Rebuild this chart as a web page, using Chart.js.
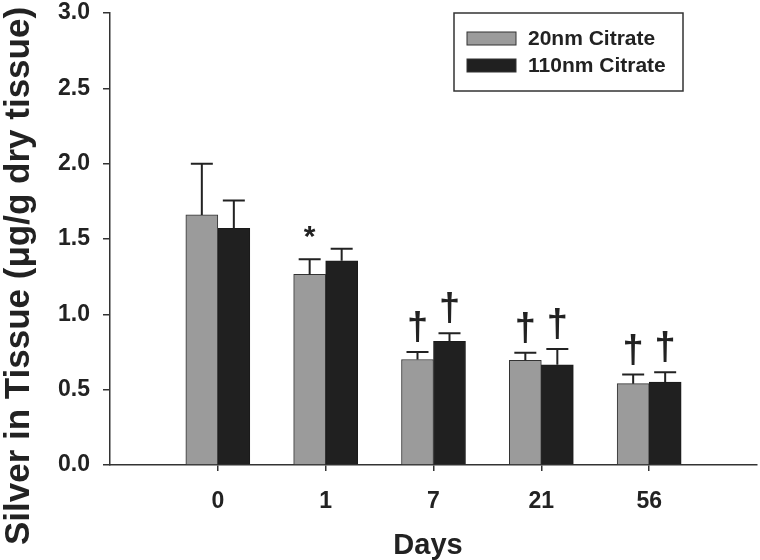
<!DOCTYPE html>
<html>
<head>
<meta charset="utf-8">
<script src="https://cdn.jsdelivr.net/npm/chart.js@4.4.1/dist/chart.umd.min.js"></script>
<style>
  html, body { margin: 0; padding: 0; background: #fff; }
  #wrap { width: 760px; height: 560px; }
</style>
</head>
<body>
<div id="wrap"><canvas id="chart"></canvas></div>
<script>
// days on the x axis (blank slots pad both ends, like the original plot)
const days = ['', '0', '1', '7', '21', '56', ''];
// mean silver in tissue, ug/g dry tissue
const silver20 = [null, 1.66, 1.265, 0.70, 0.695, 0.54, null];
const silver110 = [null, 1.57, 1.355, 0.82, 0.665, 0.55, null];
// upper error bars
const err20 = [null, 0.34, 0.10, 0.05, 0.05, 0.06, null];
const err110 = [null, 0.185, 0.08, 0.055, 0.105, 0.065, null];
// significance marks above the bars
const mark20 = ['', '', '*', '†', '†', '†', ''];
const mark110 = ['', '', '', '†', '†', '†', ''];
// y tick labels
const yTicks = [0, 0.5, 1.0, 1.5, 2.0, 2.5, 3.0];

const FONT = '"Liberation Sans", Arial, Helvetica, sans-serif';
const INK = '#222';
const AXIS = '#333';

// error bars, marks, legend box and axis titles
const extras = {
  id: 'extras',
  afterDatasetsDraw(chart) {
    const ctx = chart.ctx;
    const y = chart.scales.y;
    const errs = [err20, err110];
    const marks = [mark20, mark110];
    ctx.save();
    chart.data.datasets.forEach((ds, di) => {
      const meta = chart.getDatasetMeta(di);
      meta.data.forEach((bar, i) => {
        if (ds.data[i] == null) return;
        const top = y.getPixelForValue(ds.data[i] + errs[di][i]);
        ctx.strokeStyle = INK;
        ctx.lineWidth = 2;
        ctx.beginPath();
        ctx.moveTo(bar.x, bar.y);
        ctx.lineTo(bar.x, top);
        ctx.moveTo(bar.x - 11, top);
        ctx.lineTo(bar.x + 11, top);
        ctx.stroke();

        const m = marks[di][i];
        if (m) {
          const star = m === '*';
          ctx.font = 'bold ' + (star ? 30 : 38) + 'px ' + FONT;
          ctx.fillStyle = INK;
          ctx.textAlign = 'center';
          ctx.textBaseline = 'alphabetic';
          const mt = ctx.measureText(m);
          const gap = star ? 21 : 10;
          ctx.fillText(m, bar.x, top - gap - mt.actualBoundingBoxDescent);
        }
      });
    });
    ctx.restore();
  },
  afterDraw(chart) {
    const ctx = chart.ctx;
    const area = chart.chartArea;
    ctx.save();

    // legend
    const bx = 454, by = area.top, bw = 229, bh = 78;
    ctx.strokeStyle = AXIS;
    ctx.lineWidth = 1.5;
    ctx.strokeRect(bx, by, bw, bh);
    ctx.font = 'bold 21px ' + FONT;
    ctx.textAlign = 'left';
    ctx.textBaseline = 'middle';
    chart.data.datasets.forEach((ds, di) => {
      const cy = by + 25.5 + di * 27;
      ctx.fillStyle = ds.backgroundColor;
      ctx.fillRect(bx + 13, cy - 6.5, 49, 13);
      ctx.lineWidth = 1;
      ctx.strokeStyle = AXIS;
      ctx.strokeRect(bx + 13, cy - 6.5, 49, 13);
      ctx.fillStyle = INK;
      ctx.fillText(ds.label, bx + 74, cy + 1);
    });

    // axis titles
    ctx.fillStyle = INK;
    ctx.font = 'bold 29px ' + FONT;
    ctx.textAlign = 'center';
    ctx.textBaseline = 'alphabetic';
    ctx.fillText('Days', 428, 554);

    ctx.translate(29, 276);
    ctx.rotate(-Math.PI / 2);
    ctx.font = 'bold 35px ' + FONT;
    ctx.fillText('Silver in Tissue (\u03BCg/g dry tissue)', 0, 0);
    ctx.restore();
  }
};

const tickFont = { family: FONT, size: 23, weight: 'bold' };

new Chart(document.getElementById('chart'), {
  type: 'bar',
  data: {
    labels: days,
    datasets: [
      {
        label: '20nm Citrate',
        data: silver20,
        backgroundColor: '#9b9b9b',
        borderColor: AXIS,
        borderWidth: 1,
        barThickness: 32,
      },
      {
        label: '110nm Citrate',
        data: silver110,
        backgroundColor: '#202020',
        borderColor: '#1a1a1a',
        borderWidth: 1,
        barThickness: 32,
      },
    ],
  },
  options: {
    responsive: true,
    maintainAspectRatio: false,
    animation: false,
    layout: { padding: { top: 13, right: 3, left: 0, bottom: 0 } },
    plugins: {
      legend: { display: false },
      tooltip: { enabled: false },
    },
    scales: {
      x: {
        offset: false,
        grid: {
          offset: false,
          drawOnChartArea: false,
          tickLength: 6,
          lineWidth: 1.5,
          color: (c) => (c.index > 0 && c.index < days.length - 1 ? AXIS : 'rgba(0,0,0,0)'),
        },
        border: { color: AXIS, width: 1.5 },
        ticks: { color: INK, font: tickFont, padding: 17, maxRotation: 0, autoSkip: false },
        afterFit: (s) => {
          s.height = 95;
          s.paddingLeft = 0;
          s.paddingRight = 0;
        },
      },
      y: {
        min: 0,
        max: 3,
        grid: { drawOnChartArea: false, tickLength: 7, lineWidth: 1.5, color: AXIS },
        border: { color: AXIS, width: 1.5 },
        ticks: { color: INK, font: tickFont, padding: 13, callback: (v) => v.toFixed(1) },
        afterBuildTicks: (s) => { s.ticks = yTicks.map((v) => ({ value: v })); },
        afterFit: (s) => {
          s.width = 110;
          s.paddingTop = 0;
          s.paddingBottom = 0;
        },
      },
    },
  },
  plugins: [extras],
});
</script>
</body>
</html>
